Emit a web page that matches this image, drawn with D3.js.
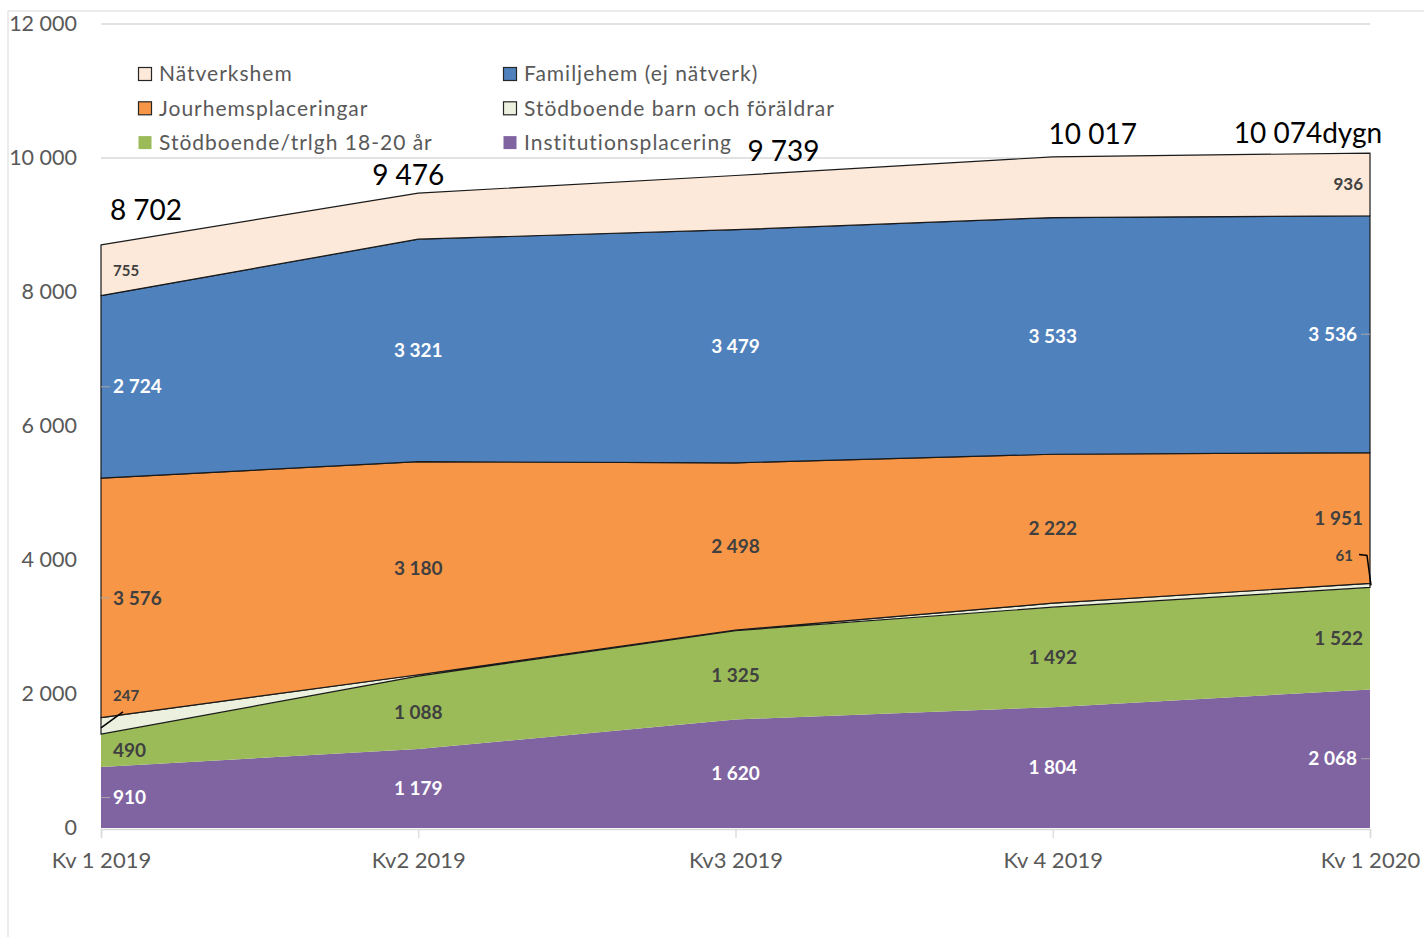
<!DOCTYPE html>
<html>
<head>
<meta charset="utf-8">
<script src="https://cdn.jsdelivr.net/npm/d3@7"></script>
<style>
  body { margin: 0; background: #fff; }
  svg { display: block; font-family: Lato, "Open Sans", sans-serif; }
</style>
</head>
<body>
<svg width="1424" height="937"></svg>
<script>
// data
const quarters = ["Kv 1 2019", "Kv2 2019", "Kv3 2019", "Kv 4 2019", "Kv 1 2020"];
const institution = [910, 1179, 1620, 1804, 2068];
const stodTrlgh = [490, 1088, 1325, 1492, 1522];
const stodBarn = [247, 20, 8, 60, 61];
const jourhem = [3576, 3180, 2498, 2222, 1951];
const familjehem = [2724, 3321, 3479, 3533, 3536];
const natverk = [755, 688, 809, 906, 936];
const yTicks = [0, 2000, 4000, 6000, 8000, 10000, 12000];
const gridTicks = [10000, 12000];
const totalSuffix = ["", "", "", "", "dygn"];

// series bottom -> top
const series = [
    {key: "inst", name: "Institutionsplacering", values: institution, color: "#8064a2", stroke: false, label: "#fff", show: [0, 1, 2, 3, 4]},
    {key: "trlgh", name: "Stödboende/trlgh 18-20 år", values: stodTrlgh, color: "#9bbb59", stroke: false, label: "#404040", show: [0, 1, 2, 3, 4]},
    {key: "barn", name: "Stödboende barn och föräldrar", values: stodBarn, color: "#ebf1de", stroke: true, label: "#404040", show: [0, 4]},
    {key: "jour", name: "Jourhemsplaceringar", values: jourhem, color: "#f79646", stroke: true, label: "#404040", show: [0, 1, 2, 3, 4]},
    {key: "fam", name: "Familjehem (ej nätverk)", values: familjehem, color: "#4f81bd", stroke: true, label: "#fff", show: [0, 1, 2, 3, 4]},
    {key: "nat", name: "Nätverkshem", values: natverk, color: "#fde9d9", stroke: true, label: "#404040", show: [0, 4]}
];

const legendOrder = [
    ["nat", "fam"],
    ["jour", "barn"],
    ["trlgh", "inst"]
];

const rows = quarters.map((q, i) => {
    const r = {q: q};
    series.forEach(s => r[s.key] = s.values[i]);
    return r;
});

const svg = d3.select("svg");
const fmt = d3.formatLocale({decimal: ",", thousands: " ", grouping: [3], currency: ["", ""]}).format(",d");

const x = d3.scalePoint().domain(quarters).range([101, 1370]);
const y = d3.scaleLinear().domain([0, 12000]).range([828, 24]);

// chart border (only top/left visible)
svg.append("line").attr("x1", 8).attr("x2", 1424).attr("y1", 11).attr("y2", 11)
    .attr("stroke", "#d9d9d9");
svg.append("line").attr("x1", 8).attr("x2", 8).attr("y1", 11).attr("y2", 937)
    .attr("stroke", "#d9d9d9");

// gridlines
svg.append("g").selectAll("line")
    .data(gridTicks)
    .join("line")
    .attr("x1", x.range()[0]).attr("x2", x.range()[1])
    .attr("y1", d => y(d)).attr("y2", d => y(d))
    .attr("stroke", "#d9d9d9").attr("stroke-width", 1.3);

// stacked areas
const stack = d3.stack().keys(series.map(s => s.key));
const stacked = stack(rows);

const area = d3.area()
    .x((d, i) => x(quarters[i]))
    .y0(d => y(d[0]))
    .y1(d => y(d[1]));

svg.append("g").selectAll("path")
    .data(stacked)
    .join("path")
    .attr("d", area)
    .attr("fill", (d, i) => series[i].color)
    .attr("stroke", (d, i) => series[i].stroke ? "#1a1a1a" : "none")
    .attr("stroke-width", 1.2)
    .attr("stroke-linejoin", "round");

// x axis
const axisX = d3.axisBottom(x).tickSize(9).tickPadding(14);
const gx = svg.append("g")
    .attr("transform", `translate(0, ${y(0) + 1})`)
    .call(axisX);
gx.select(".domain").attr("stroke", "#d9d9d9").attr("stroke-width", 1.5);
gx.selectAll(".tick line").attr("stroke", "#d9d9d9").attr("stroke-width", 1.3);
gx.selectAll("text")
    .attr("fill", "#595959")
    .style("font-size", "22px")
    .style("font-family", "Lato, sans-serif");

// y axis (labels only)
const axisY = d3.axisLeft(y).tickValues(yTicks).tickFormat(fmt).tickSize(0).tickPadding(0);
const gy = svg.append("g")
    .attr("transform", "translate(77, 0)")
    .call(axisY);
gy.select(".domain").remove();
gy.selectAll("text")
    .attr("fill", "#595959")
    .style("font-size", "21.5px")
    .style("font-family", "Lato, sans-serif");

// labels that carry a small grey leader line
const greyLeaders = [["fam", 0], ["jour", 0], ["inst", 0], ["fam", 4], ["inst", 4]];
const hasLeader = (k, i) => greyLeaders.some(g => g[0] === k && g[1] === i);

// data labels
const labels = svg.append("g").style("font-weight", "bold");
const last = quarters.length - 1;
stacked.forEach((layer, si) => {
    const s = series[si];
    s.show.forEach(i => {
        const d = layer[i];
        const px = x(quarters[i]);
        let py = y((d[0] + d[1]) / 2);
        let anchor = "middle";
        let tx = px;
        let size = 19;
        if (i === 0) { anchor = "start"; tx = px + 12; }
        if (i === last) { anchor = "end"; tx = hasLeader(s.key, i) ? px - 13 : px - 7; }
        if (s.key === "barn") {
            size = 15;
            py -= 30;
            if (i === last) tx = px - 17;
        }
        if (s.key === "nat") size = (i === 0) ? 15 : 17;
        labels.append("text")
            .attr("x", tx)
            .attr("y", py)
            .attr("dy", "0.35em")
            .attr("text-anchor", anchor)
            .attr("fill", s.label)
            .style("font-size", size + "px")
            .text(fmt(s.values[i]));

        // leader lines
        if (s.key === "barn") {
            const by = y((d[0] + d[1]) / 2);
            if (i === 0) {
                labels.append("path")
                    .attr("d", `M${px},${by + 2}L${px + 22},${by - 14}`)
                    .attr("stroke", "#000").attr("stroke-width", 1.5).attr("fill", "none");
            } else {
                labels.append("path")
                    .attr("d", `M${px - 11},${py - 1}L${px - 3},${py}L${px + 1},${by}`)
                    .attr("stroke", "#000").attr("stroke-width", 1.5).attr("fill", "none");
            }
        }
    });
});

greyLeaders.forEach(([k, i]) => {
    const si = series.findIndex(s => s.key === k);
    const d = stacked[si][i];
    const py = y((d[0] + d[1]) / 2);
    const px = x(quarters[i]);
    const x1 = i === 0 ? px : px - 9;
    labels.append("line")
        .attr("x1", x1).attr("x2", x1 + 9)
        .attr("y1", py).attr("y2", py)
        .attr("stroke", "#a6a6a6").attr("stroke-width", 1);
});

// totals above the stack
const totals = rows.map(r => d3.sum(series, s => r[s.key]));
const totalOffset = [[45, -25], [-10, -8], [48, -14], [40, -13], [-62, -10]];
svg.append("g").selectAll("text")
    .data(totals)
    .join("text")
    .attr("x", (d, i) => x(quarters[i]) + totalOffset[i][0])
    .attr("y", (d, i) => y(d) + totalOffset[i][1])
    .attr("text-anchor", "middle")
    .attr("fill", "#000")
    .style("font-size", "28px")
    .text((d, i) => fmt(d) + totalSuffix[i]);

// legend
const legend = svg.append("g").attr("transform", "translate(138, 74)");
legendOrder.forEach((row, ri) => {
    row.forEach((k, ci) => {
        const s = series.find(d => d.key === k);
        const g = legend.append("g").attr("transform", `translate(${ci * 365}, ${ri * 34.3})`);
        g.append("rect")
            .attr("x", 0.5).attr("y", -6.5)
            .attr("width", 13).attr("height", 13)
            .attr("fill", s.color)
            .attr("stroke", s.stroke ? "#262626" : "none")
            .attr("stroke-width", 1.2);
        g.append("text")
            .attr("x", 21)
            .attr("y", 0)
            .attr("dy", "0.35em")
            .attr("fill", "#595959")
            .style("font-size", "21px")
            .style("letter-spacing", "1px")
            .text(s.name);
    });
});
</script>
</body>
</html>
